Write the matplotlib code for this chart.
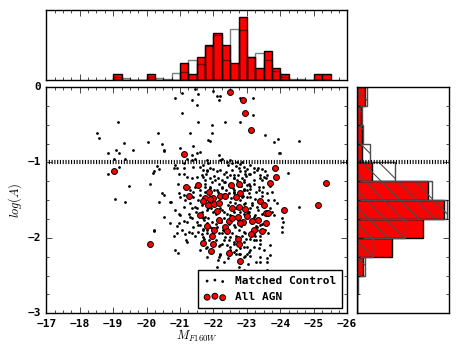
import matplotlib
matplotlib.use('Agg')
import matplotlib.pyplot as plt
from matplotlib.ticker import MultipleLocator, NullFormatter, NullLocator

plt.style.use('classic')
plt.rcParams['font.family'] = ['DejaVu Sans Mono']
plt.rcParams['font.weight'] = 'bold'
plt.rcParams['mathtext.fontset'] = 'cm'
plt.rcParams['hatch.color'] = '0.55'
plt.rcParams['hatch.linewidth'] = 0.8

# --- matched control galaxies: absolute magnitude and log(A) ---
ctrl_mag = [
    -20.86, -21.06, -21.36, -21.46, -21.54, -21.52, -21.06, -21.54, -19.13, -18.52,
    -18.58, -20.33, -20.03, -19.33, -20.46, -21.29, -21.40, -20.99, -19.59, -19.08,
    -18.85, -19.17, -20.51, -19.01, -19.34, -19.16, -18.85, -20.31, -20.37, -20.21,
    -20.19, -19.48, -20.11, -20.51, -20.91, -20.83, -20.96, -21.11, -20.93, -21.13,
    -21.21, -21.36, -21.46, -21.36, -21.51, -21.61, -21.40, -21.61, -21.81, -21.85,
    -21.21, -21.36, -21.51, -21.66, -21.75, -21.81, -21.31, -21.46, -21.61, -20.96,
    -19.06,
    -21.99, -22.10, -22.20, -22.15, -22.80, -23.18, -23.18, -22.35, -22.80, -21.96,
    -21.97, -21.90, -23.53, -23.92, -23.80, -24.57, -23.96, -24.22, -22.15, -22.20,
    -21.85, -22.40, -22.50, -22.70, -22.85, -23.00, -23.20, -23.45, -23.50, -23.40,
    -23.60, -23.55, -23.05, -22.80, -22.60, -22.40, -22.20, -22.00, -21.81, -21.70,
    -22.05, -22.30, -22.70, -22.90, -23.20, -23.10, -23.35, -23.45, -23.70, -23.75,
    -23.05, -22.90, -22.60, -22.45, -22.10, -21.90, -21.75, -22.25,
    -23.98, -24.55, -23.80, -23.90, -23.75, -23.80, -24.05, -24.08, -24.05, -24.05,
    -23.70, -23.40, -23.28, -23.20, -23.35, -23.48, -23.60, -23.35, -23.25, -23.15,
    -23.00, -23.05, -23.22, -23.40, -22.95, -22.90, -23.05, -23.20, -23.40, -23.55,
    -23.30, -22.95, -23.10, -22.90, -23.00,
    -23.60, -23.60, -23.60, -22.90, -23.05, -22.90, -22.20, -22.15, -22.10, -22.60,
    -22.80, -22.68, -21.61, -21.81, -23.10, -23.40, -23.30, -22.50, -22.30, -22.20,
    -22.40, -22.50,
    -19.34, -20.36, -20.74, -20.96, -20.71, -20.23, -20.81, -20.91, -20.98, -21.11,
    -21.06, -21.26, -21.21, -20.86, -20.93, -21.36, -21.46, -21.55, -21.70, -21.81,
    -21.26, -21.36, -21.46, -21.31, -21.16, -21.36, -21.51, -21.61, -21.61, -21.49,
    -21.70, -21.81, -21.70, -21.11, -21.40, -21.55, -21.81,
    -20.51, -22.25, -20.86, -21.11, -21.70, -21.90, -22.10, -22.30, -22.55, -22.75,
    -22.95, -23.10, -23.30, -20.46, -20.71, -20.86, -20.51, -21.01, -21.21, -21.40,
    -20.21, -20.91, -21.75, -21.90, -22.90, -23.25, -23.40, -23.00, -23.10, -22.90,
    -22.60, -22.35, -22.15, -21.95, -21.75, -21.61, -21.40, -21.51, -21.66, -21.85,
    -22.00, -22.25, -22.40, -22.60, -22.65, -22.50, -22.38, -22.60, -22.85, -22.95,
    -23.10, -23.30, -23.25, -22.60, -22.75, -22.10, -22.25, -22.00, -21.70, -21.55,
    -21.31, -21.11, -21.01, -21.26,
    -21.16, -21.66, -21.19, -22.15, -22.18, -22.35, -22.60, -22.90, -23.00, -22.95,
    -23.10, -22.75, -22.75, -21.81, -23.40, -23.40, -23.20,
    -22.44, -22.56, -22.68, -22.80, -22.92, -22.38, -22.50, -22.62, -22.74, -22.86,
    -22.98, -22.47, -22.59, -22.83, -22.92, -23.01, -22.41, -22.53, -22.62, -22.80,
    -22.89, -22.44, -22.68, -22.80, -22.92, -22.50, -22.62, -22.74, -22.92, -23.04,
    -22.47, -22.65, -22.83, -22.92, -22.56, -22.68, -22.86, -22.98, -22.47, -22.62,
    -22.80, -22.50, -22.68,
    -21.69, -21.78, -21.90, -22.02, -22.14, -22.26, -21.75, -21.90, -22.02, -22.14,
    -22.26, -22.32, -21.67, -21.93, -22.08, -22.20, -22.32, -21.72, -21.84, -21.96,
    -22.08, -22.23, -22.32, -21.81, -21.96, -22.17, -22.29, -21.72, -21.87, -22.08,
    -22.26, -21.78, -21.96, -22.14, -22.32, -22.44,
    -23.10, -23.22, -23.34, -23.46, -23.58, -23.10, -23.28, -23.46, -23.64, -23.16,
    -23.34, -23.46, -23.70, -23.16, -23.28, -23.46, -23.64, -23.22, -23.40, -23.52,
    -23.70, -23.10, -23.28, -23.04,
]
ctrl_loga = [
    -0.15, -0.08, -0.17, -0.03, -0.09, -0.24, -0.35, -0.46, -0.47, -0.61,
    -0.67, -0.61, -0.73, -0.74, -0.75, -0.61, -0.78, -0.81, -0.83, -0.83,
    -0.87, -0.88, -0.85, -0.95, -0.95, -1.06, -1.16, -1.05, -1.09, -1.11,
    -1.14, -1.31, -1.28, -1.43, -1.08, -1.07, -1.15, -1.16, -1.28, -1.01,
    -0.96, -0.97, -0.95, -0.90, -0.88, -0.86, -1.06, -1.06, -0.97, -0.70,
    -1.19, -1.21, -1.19, -1.17, -1.24, -1.12, -1.37, -1.32, -1.43, -1.41,
    -1.48,
    -0.05, -0.12, -0.12, -0.17, -0.15, -0.14, -0.37, -0.47, -0.47, -0.50,
    -0.61, -0.71, -0.64, -0.69, -0.73, -0.72, -0.88, -1.14, -0.90, -0.97,
    -1.01, -0.99, -0.97, -0.99, -0.99, -1.09, -1.08, -1.09, -1.19, -1.21,
    -1.17, -1.12, -1.15, -1.12, -1.17, -1.19, -1.10, -1.09, -1.10, -1.19,
    -1.24, -1.26, -1.24, -1.24, -1.28, -1.35, -1.32, -1.39, -1.31, -1.39,
    -1.41, -1.37, -1.37, -1.41, -1.37, -1.32, -1.28, -1.32,
    -0.88, -1.59, -1.50, -1.54, -1.66, -1.70, -1.74, -1.79, -1.86, -1.92,
    -2.10, -1.97, -2.03, -2.12, -2.14, -1.32, -1.41, -1.37, -1.48, -1.54,
    -1.46, -1.28, -1.24, -1.17, -1.15, -1.35, -1.66, -1.72, -1.77, -1.90,
    -1.86, -1.94, -2.01, -2.05, -2.12,
    -2.27, -2.32, -2.43, -2.43, -2.19, -2.25, -2.21, -2.25, -2.39, -2.19,
    -2.21, -2.16, -2.16, -2.12, -2.45, -2.03, -1.90, -1.99, -2.03, -2.10,
    -2.10, -2.12,
    -1.53, -1.53, -1.53, -1.69, -1.81, -1.91, -1.97, -1.85, -1.80, -1.78,
    -1.89, -1.92, -2.05, -2.16, -2.20, -1.94, -1.97, -1.92, -1.99, -1.94,
    -1.68, -1.61, -1.59, -1.54, -1.50, -1.74, -1.79, -1.83, -1.68, -1.66,
    -1.74, -1.81, -1.88, -1.43, -1.46, -1.50, -1.63,
    -0.84, -0.95, -1.04, -1.08, -1.10, -1.08, -1.12, -1.15, -1.10, -1.08,
    -1.12, -1.15, -1.10, -1.41, -1.52, -1.63, -1.72, -1.70, -1.79, -1.86,
    -1.90, -1.94, -1.72, -1.86, -1.92, -1.97, -1.83, -1.37, -1.46, -1.26,
    -1.21, -1.26, -1.28, -1.26, -1.32, -1.37, -1.39, -1.61, -1.66, -1.61,
    -1.66, -1.63, -1.68, -1.66, -1.54, -1.52, -1.37, -1.39, -1.46, -1.54,
    -1.61, -1.59, -1.70, -1.83, -1.90, -1.86, -1.94, -1.99, -1.90, -1.83,
    -1.72, -1.59, -1.46, -1.32,
    -1.95, -1.95, -2.03, -2.11, -2.23, -1.99, -2.05, -2.12, -2.21, -2.24,
    -2.16, -2.21, -2.39, -2.25, -2.32, -2.25, -1.95,
    -1.04, -1.01, -1.05, -1.02, -1.06, -1.13, -1.17, -1.21, -1.17, -1.21,
    -1.18, -1.30, -1.34, -1.31, -1.37, -1.30, -1.43, -1.47, -1.41, -1.50,
    -1.45, -1.57, -1.61, -1.66, -1.55, -1.70, -1.74, -1.77, -1.69, -1.66,
    -1.82, -1.86, -1.85, -1.82, -1.94, -1.98, -1.98, -2.01, -2.03, -2.08,
    -2.14, -2.16, -2.22,
    -1.04, -1.16, -1.21, -1.18, -1.21, -1.24, -1.39, -1.34, -1.37, -1.39,
    -1.34, -1.42, -1.57, -1.61, -1.69, -1.61, -1.66, -1.77, -1.74, -1.79,
    -1.82, -1.79, -1.74, -1.90, -1.87, -1.93, -1.90, -2.01, -2.03, -2.03,
    -2.08, -2.14, -2.19, -2.30, -2.32, -2.27,
    -1.04, -1.13, -1.08, -1.24, -1.21, -1.31, -1.39, -1.45, -1.50, -1.57,
    -1.63, -1.69, -1.61, -1.79, -1.85, -1.82, -1.93, -2.03, -2.08, -2.16,
    -2.23, -2.24, -2.32, -2.35,
]

# --- AGN hosts ---
agn_mag = [
    -22.50, -22.87, -22.95, -23.12, -23.84, -23.88, -23.69, -25.35, -22.52, -22.77,
    -21.88, -22.78, -22.20, -22.35, -21.76, -22.00, -23.40, -23.52, -24.11, -25.12,
    -23.56, -23.64, -23.00, -22.93, -23.14, -23.58, -22.88, -23.20, -23.45, -23.12,
    -21.11, -21.17, -21.54, -21.28, -21.70, -21.84, -22.02, -22.17, -22.10, -21.61,
    -22.55, -22.75, -22.72, -22.15, -22.45, -22.80, -23.32, -22.35, -22.03, -22.40,
    -22.72, -21.96, -21.69, -22.00, -21.93, -22.45, -22.77, -22.79, -20.10, -19.01,
    -21.81, -22.68, -22.55, -21.90,
]
agn_loga = [
    -0.07, -0.17, -0.35, -0.57, -1.07, -1.19, -1.27, -1.27, -1.30, -1.29,
    -1.39, -1.40, -1.45, -1.45, -1.47, -1.47, -1.51, -1.57, -1.63, -1.56,
    -1.67, -1.67, -1.71, -1.62, -1.78, -1.80, -1.79, -1.90, -1.91, -1.95,
    -0.89, -1.32, -1.30, -1.45, -1.51, -1.57, -1.55, -1.54, -1.65, -1.70,
    -1.60, -1.59, -1.72, -1.77, -1.78, -1.80, -1.76, -1.86, -1.90, -1.91,
    -2.01, -1.98, -2.07, -2.08, -2.17, -2.20, -2.08, -2.31, -2.08, -1.12,
    -1.84, -1.46, -1.74, -1.49,
]

# --- normalised histograms (0.25 wide bins) ---
mag_bin_edge = [-19.00, -19.25, -19.50, -19.75, -20.00, -20.25, -20.50, -20.75, -21.00,
                -21.25, -21.50, -21.75, -22.00, -22.25, -22.50, -22.75, -23.00, -23.25,
                -23.50, -23.75, -24.00, -24.25, -24.50, -24.75, -25.00, -25.25]
agn_mag_hist = [0.086, 0, 0, 0, 0.086, 0, 0, 0, 0.252, 0.086, 0.333, 0.500, 0.681,
                0.500, 0.252, 0.905, 0.333, 0.167, 0.414, 0.167, 0.086, 0, 0, 0,
                0.086, 0.086]
ctrl_mag_hist = [0.048, 0.024, 0, 0, 0.048, 0.033, 0.019, 0.095, 0.119, 0.286, 0.229,
                 0.490, 0.652, 0.286, 0.729, 0.724, 0.324, 0.395, 0.295, 0.133, 0.048,
                 0.014, 0.019, 0, 0, 0]

loga_bin_edge = [-3.00, -2.75, -2.50, -2.25, -2.00, -1.75, -1.50, -1.25, -1.00, -0.75,
                 -0.50, -0.25]
agn_loga_hist = [0, 0, 0.065, 0.386, 0.722, 0.949, 0.776, 0.162, 0.054, 0.054, 0.047, 0.090]
ctrl_loga_hist = [0, 0.018, 0.090, 0.181, 0.523, 0.975, 0.812, 0.415, 0.144, 0.065, 0.054, 0.108]

fig = plt.figure(figsize=(4.63, 3.48), dpi=100)
fig.patch.set_facecolor('white')

left, width = 0.1, 0.65
bottom, height = 0.1, 0.65
ax = fig.add_axes([left, bottom, width, height])
ax_top = fig.add_axes([left, bottom + height + 0.02, width, 0.2])
ax_right = fig.add_axes([left + width + 0.02, bottom, 0.2, height])

dotted = (0, (0.8, 1.2))

# scatter panel
ax.scatter(ctrl_mag, ctrl_loga, s=4, c='k', marker='o', linewidths=0, label='Matched Control')
ax.scatter(agn_mag, agn_loga, s=18, c='red', edgecolors='k', linewidths=0.7, label='All AGN')
ax.axhline(-1, color='k', ls=dotted, lw=3)
ax.set_xlim(-17, -26)
ax.set_ylim(-3, 0)
ax.xaxis.set_major_locator(MultipleLocator(1))
ax.xaxis.set_minor_locator(MultipleLocator(0.25))
ax.yaxis.set_major_locator(MultipleLocator(1))
ax.yaxis.set_minor_locator(MultipleLocator(0.25))
ax.tick_params(labelsize=8)
ax.set_xlabel(r'$M_{F160W}$', fontsize=9, labelpad=0)
ax.set_ylabel(r'$log(A)$', fontsize=9, labelpad=2)
ax.legend(loc='lower right', prop={'family': 'DejaVu Sans Mono', 'weight': 'bold', 'size': 8},
          scatterpoints=3, handlelength=2, borderpad=0.5, labelspacing=0.55)

# top histogram
ax_top.bar(mag_bin_edge, agn_mag_hist, width=-0.25, align='edge', color='red',
           edgecolor='k', lw=1)
ax_top.bar(mag_bin_edge, ctrl_mag_hist, width=-0.25, align='edge', facecolor='none',
           edgecolor='k', lw=1, alpha=0.5)
ax_top.set_xlim(ax.get_xlim())
ax_top.set_ylim(0, 1)
ax_top.xaxis.set_major_locator(MultipleLocator(1))
ax_top.xaxis.set_minor_locator(MultipleLocator(0.25))
ax_top.xaxis.set_major_formatter(NullFormatter())
ax_top.yaxis.set_major_locator(NullLocator())

# right histogram
ax_right.barh(loga_bin_edge, agn_loga_hist, height=0.25, align='edge', color='red',
              edgecolor='k', lw=1)
ax_right.barh(loga_bin_edge, ctrl_loga_hist, height=0.25, align='edge', fill=False,
              edgecolor='0.3', lw=1, hatch='\\\\')
ax_right.axhline(-1, color='k', ls=dotted, lw=3)
ax_right.set_ylim(ax.get_ylim())
ax_right.set_xlim(0, 1)
ax_right.yaxis.set_major_locator(MultipleLocator(1))
ax_right.yaxis.set_minor_locator(MultipleLocator(0.25))
ax_right.yaxis.set_major_formatter(NullFormatter())
ax_right.xaxis.set_major_locator(NullLocator())

fig.savefig('out.png', dpi=100, facecolor='white')
